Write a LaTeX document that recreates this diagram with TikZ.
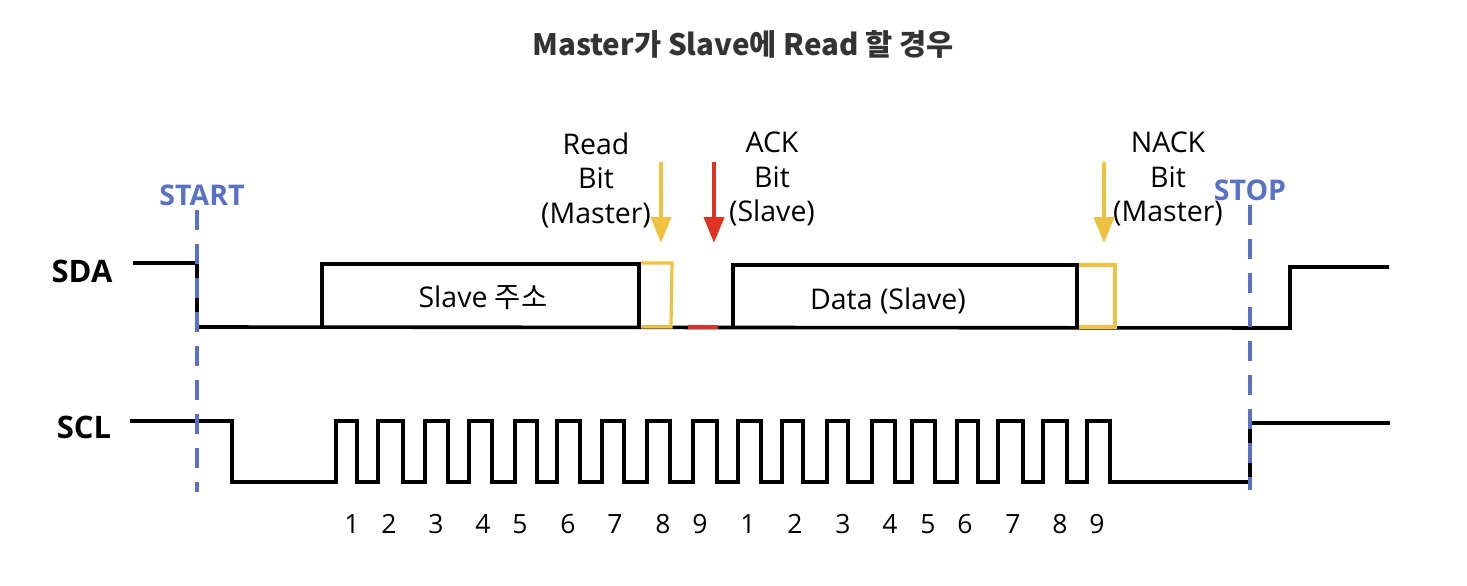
\documentclass[tikz,border=0pt]{standalone}
\usepackage{fontspec}
\setmainfont{Open Sans}
\newfontfamily\kr{Noto Sans CJK KR}
\usetikzlibrary{arrows.meta}
\definecolor{bl}{RGB}{90,114,196}
\definecolor{yl}{RGB}{240,192,64}
\definecolor{rd}{RGB}{222,50,34}
\definecolor{tt}{RGB}{51,51,51}
\begin{document}
\begin{tikzpicture}[x=1pt,y=-1pt,
  sig/.style={line width=3.6pt, line join=miter, black},
  ybox/.style={line width=3.2pt, line join=miter, yl},
  evtline/.style={line width=3.6pt, dash pattern=on 20pt off 14pt, bl},
  arr/.style={line width=4pt, -{Triangle[width=20pt,length=26pt]}},
  lbl/.style={font=\fontsize{28.5}{34.5}\selectfont, align=center, inner sep=0pt},
  num/.style={font=\fontsize{26.5}{30}\selectfont, inner sep=0pt},
  sig name/.style={font=\fontsize{31}{34}\selectfont\bfseries, inner sep=0pt},
  evt/.style={font=\fontsize{28.5}{32}\selectfont\bfseries, text=bl, inner sep=0pt}]
\useasboundingbox (0,0) rectangle (1467,586);
% title
\node[font=\kr\fontsize{29.5}{32}\selectfont\bfseries, text=tt, inner sep=0pt] (title) at (743,44) {Master가 Slave에 Read 할 경우};
% signal names
\node[sig name] (sda) at (82,271) {SDA};
\node[sig name] (scl) at (84,427) {SCL};
% SDA line
\draw[sig] (133,263) -- (197,263) -- (197,327) -- (1290,328) -- (1290,267) -- (1389,267);
\draw[sig] (322,327) -- (322,264) -- (639,264) -- (639,327);
\draw[sig] (733,327) -- (733,265) -- (1077,265) -- (1077,327);
\draw[ybox] (641,263) -- (672,263) -- (671,327) -- (641,327);
\draw[ybox] (1079,265) -- (1115,265) -- (1115,327) -- (1079,327);
\draw[line width=3.6pt, rd] (688,327) -- (718,327);
\node[lbl] (slaveaddr) at (483,298) {Slave {\kr 주소}};
\node[lbl] (data) at (888,301) {Data (Slave)};
% SCL line
\draw[sig] (130,421) -- (232,421) -- (232,482)
  \foreach \r/\f in {336/357,378/403,425/448,469/492,515/537,557/580,602/624,647/670,693/717,738/761,782/803,827/848,872/895,912/935,957/978,998/1023,1043/1067,1087/1110}
  { -- (\r,482) -- (\r,421) -- (\f,421) -- (\f,482) }
  -- (1250,482) -- (1250,423) -- (1390,423);
% clock numbers
\foreach \x/\t [count=\i] in {352/1,389/2,436/3,483/4,520/5,568/6,615/7,663/8,700/9,748/1,795/2,843/3,890/4,928/5,965/6,1013/7,1060/8,1097/9}
  \node[num] (n\i) at (\x,524) {\t};
% start / stop
\node[evt] (start) at (202,195) {START};
\node[evt] (stop) at (1250,190) {STOP};
\coordinate (starttop) at (197,210);
\coordinate (startbot) at (197,492);
\coordinate (stoptop) at (1250,205);
\coordinate (stopbot) at (1250,490);
\draw[evtline] (starttop) -- (startbot);
\draw[evtline] (stoptop) -- (stopbot);
% bit labels and arrows
\node[lbl] (readlbl) at (596,180) {Read\\Bit\\(Master)};
\node[lbl] (acklbl) at (772,179) {ACK\\Bit\\(Slave)};
\node[lbl] (nacklbl) at (1168,179) {NACK\\Bit\\(Master)};
\coordinate (ra) at (661,162); \coordinate (rb) at (661,243);
\coordinate (aa) at (714,162); \coordinate (ab) at (714,243);
\coordinate (na) at (1104,162); \coordinate (nb) at (1104,243);
\draw[arr, yl] (ra) -- (rb);
\draw[arr, rd] (aa) -- (ab);
\draw[arr, yl] (na) -- (nb);
\end{tikzpicture}
\end{document}
